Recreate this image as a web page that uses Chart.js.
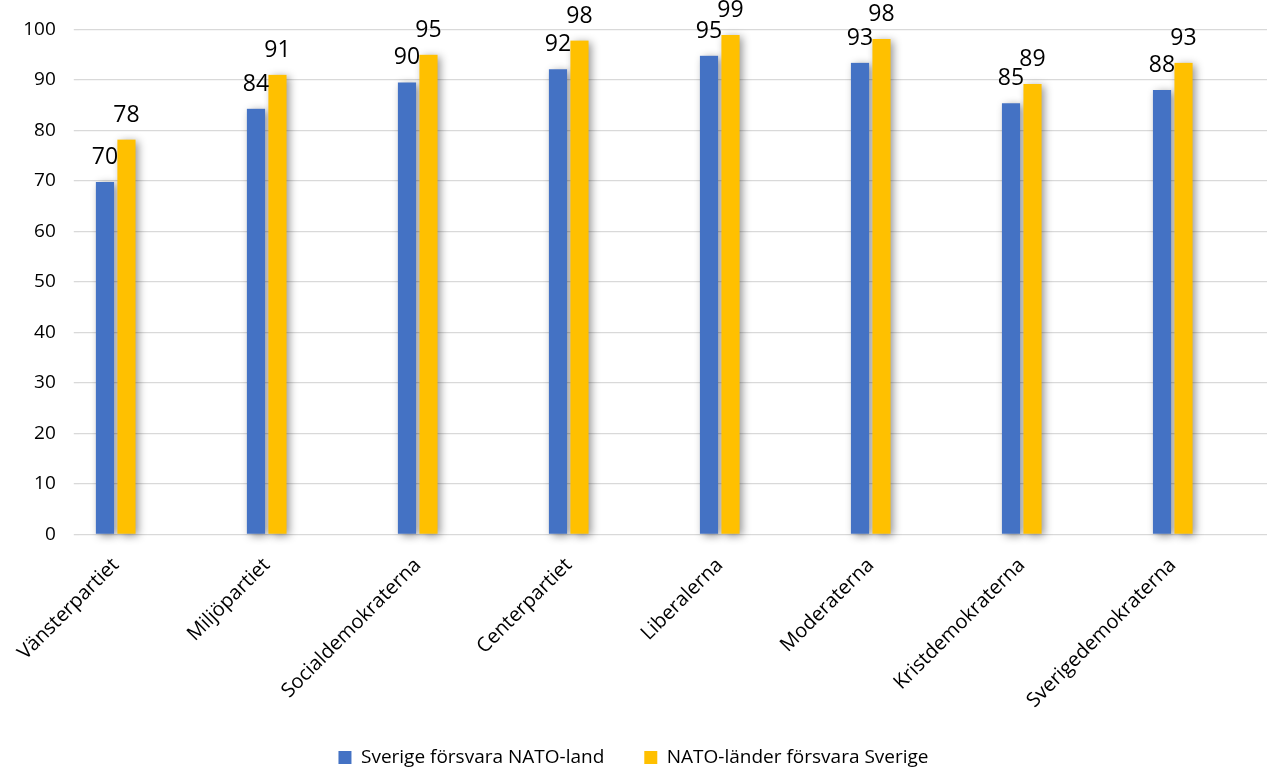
<!DOCTYPE html>
<html>
<head>
<meta charset="utf-8">
<script src="https://cdn.jsdelivr.net/npm/chart.js@4.4.0/dist/chart.umd.min.js"></script>
<style>
  html, body { margin: 0; padding: 0; background: #fff; }
  #wrap { width: 1271px; height: 772px; }
</style>
</head>
<body>
<div id="wrap"><canvas id="chart" width="1271" height="772"></canvas></div>
<script>
var categories = ["Vänsterpartiet", "Miljöpartiet", "Socialdemokraterna", "Centerpartiet",
    "Liberalerna", "Moderaterna", "Kristdemokraterna", "Sverigedemokraterna"];
var sverigeForsvarar = [69.8, 84.3, 89.5, 92.1, 94.8, 93.4, 85.4, 88.0];
var natoForsvarar = [78.2, 91.0, 95.0, 97.8, 98.9, 98.1, 89.2, 93.4];
var yTicks = [0, 10, 20, 30, 40, 50, 60, 70, 80, 90, 100];

var FONT = "'Open Sans'";

function toPoints(values) {
    return values.map(function (v, i) { return { x: i, y: v }; });
}

// soft drop shadow behind each bar (drawn off-screen, only shadow lands)
var barShadow = {
    id: "barShadow",
    beforeDatasetsDraw: function (chart) {
        var ctx = chart.ctx;
        var far = 3000;
        ctx.save();
        ctx.shadowColor = "rgba(0,0,0,0.42)";
        ctx.shadowBlur = 8;
        ctx.shadowOffsetX = far + 3;
        ctx.shadowOffsetY = 2;
        ctx.fillStyle = "#000";
        chart.data.datasets.forEach(function (ds, di) {
            chart.getDatasetMeta(di).data.forEach(function (el) {
                var w = el.width - 4;
                ctx.fillRect(el.x - w / 2 - far, el.y, w, el.base - el.y);
            });
        });
        ctx.restore();
    }
};

var valueLabels = {
    id: "valueLabels",
    afterDatasetsDraw: function (chart) {
        var ctx = chart.ctx;
        ctx.save();
        ctx.font = "23px " + FONT;
        ctx.fillStyle = "#000";
        ctx.textAlign = "center";
        ctx.textBaseline = "alphabetic";
        chart.data.datasets.forEach(function (ds, di) {
            chart.getDatasetMeta(di).data.forEach(function (el, i) {
                ctx.fillText(Math.round(ds.data[i].y), el.x, el.y - 18);
            });
        });
        ctx.restore();
    }
};

var barStyle = {
    barThickness: 21.5,
    borderWidth: { left: 2, right: 2, top: 0, bottom: 0 },
    borderColor: "rgba(255,255,255,0)",
    borderSkipped: "bottom"
};

new Chart(document.getElementById("chart").getContext("2d"), {
    type: "bar",
    data: {
        datasets: [
            Object.assign({ label: "Sverige försvara NATO-land", data: toPoints(sverigeForsvarar),
                backgroundColor: "#4472C4" }, barStyle),
            Object.assign({ label: "NATO-länder försvara Sverige", data: toPoints(natoForsvarar),
                backgroundColor: "#FFC000" }, barStyle)
        ]
    },
    options: {
        responsive: false,
        animation: false,
        layout: { padding: { top: 28, right: 4, left: 0, bottom: -5 } },
        plugins: {
            legend: {
                position: "bottom",
                labels: {
                    boxWidth: 13,
                    boxHeight: 13,
                    padding: 40,
                    color: "#000",
                    font: { family: FONT, size: 19 }
                }
            },
            tooltip: { enabled: false }
        },
        scales: {
            x: {
                type: "linear",
                offset: false,
                min: -0.2445,
                max: 7.624,
                grid: { display: false, drawTicks: false },
                border: { display: false },
                afterFit: function (scale) { scale.height = 173.5; },
                afterBuildTicks: function (scale) {
                    scale.ticks = categories.map(function (c, i) { return { value: i }; });
                },
                ticks: {
                    autoSkip: false,
                    minRotation: 45,
                    maxRotation: 45,
                    padding: 19,
                    color: "#000",
                    font: { family: FONT, size: 20 },
                    callback: function (v) { return categories[v]; }
                }
            },
            y: {
                min: 0,
                max: 100,
                afterFit: function (scale) { scale.width = 76; },
                afterBuildTicks: function (scale) {
                    scale.ticks = yTicks.map(function (v) { return { value: v }; });
                },
                grid: { color: "#D9D9D9", lineWidth: 1.3, tickLength: 5 },
                border: { display: false },
                ticks: {
                    padding: 18,
                    color: "#000",
                    font: { family: FONT, size: 19 }
                }
            }
        }
    },
    plugins: [barShadow, valueLabels]
});
</script>
</body>
</html>
